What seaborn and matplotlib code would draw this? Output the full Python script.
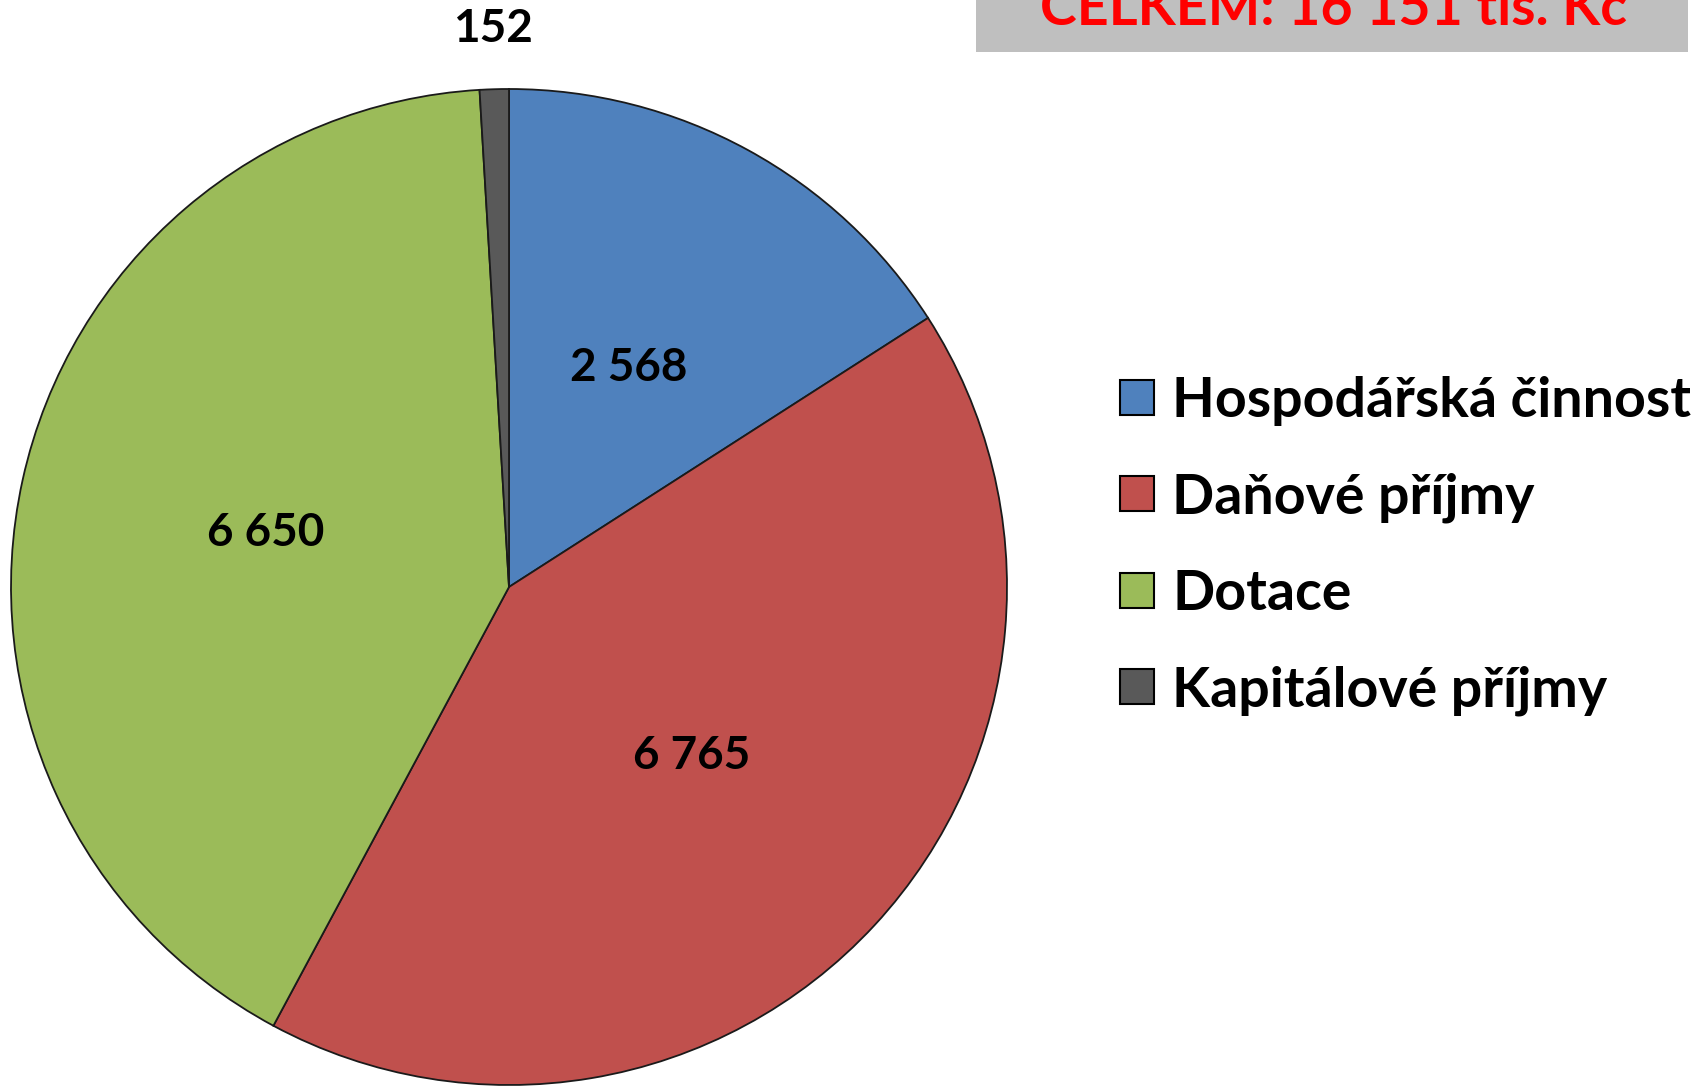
import matplotlib
matplotlib.use("Agg")
import numpy as np
import matplotlib.pyplot as plt
import matplotlib.patches as mpatches
import seaborn as sns

# data
categories = ["Hospodářská činnost", "Daňové příjmy", "Dotace", "Kapitálové příjmy"]
values = [2568, 6765, 6650, 152]
value_labels = ["2 568", "6 765", "6 650", "152"]
total_label = "CELKEM: 16 151 tis. Kč"

COLORS = ["#4F81BD", "#C0504D", "#9BBB59", "#595959"]

sns.set_theme(style="white")
plt.rcParams["font.family"] = ["Lato", "DejaVu Sans"]
plt.rcParams["font.weight"] = "bold"

W, H = 1705, 1091
fig = plt.figure(figsize=(W / 100, H / 100), dpi=100, facecolor="white")

# pie centre (509, 587) px from top-left, radius 498 px
cx, cy, r = 509, 587, 498
ax = fig.add_axes([(cx - r) / W, (H - cy - r) / H, 2 * r / W, 2 * r / H])
wedges, _ = ax.pie(values, colors=COLORS, startangle=90, counterclock=False,
                   radius=1, wedgeprops=dict(edgecolor="#1a1a1a", linewidth=1.3))
ax.set_xlim(-1, 1); ax.set_ylim(-1, 1)
ax.set_aspect("equal")
ax.axis("off")

# value labels at mid-angle of each slice
ang = 90.0
tot = sum(values)
for v, lab in zip(values, value_labels):
    span = 360.0 * v / tot
    mid = np.deg2rad(ang - span / 2)
    ang -= span
    dist = 0.5 if v / tot > 0.05 else 1.12
    ax.text(dist * np.cos(mid), dist * np.sin(mid), lab, ha="center", va="center",
            fontsize=33, fontweight="bold", color="black", clip_on=False)

# legend
handles = [mpatches.Patch(facecolor=c, edgecolor="black", linewidth=1.5) for c in COLORS]
fig.legend(handles, categories, loc="upper left",
           bbox_to_anchor=(1098 / W, 1 - 354 / H), frameon=False,
           fontsize=40, labelcolor="black", handlelength=0.6, handleheight=0.6,
           handletextpad=0.34, labelspacing=0.83, borderaxespad=0)

# total box at top right (cut off at the top edge, as in the original)
box = mpatches.Rectangle((976 / W, 1 - 52 / H), (1688 - 976) / W, 60 / H,
                         transform=fig.transFigure, facecolor="#BFBFBF",
                         edgecolor="none")
fig.patches.append(box)
fig.text(1333 / W, 1 - 25 / H, total_label, ha="center", va="baseline",
         fontsize=40, fontweight="bold", color="#FF0000")

fig.savefig("out.png", dpi=100, facecolor="white")
